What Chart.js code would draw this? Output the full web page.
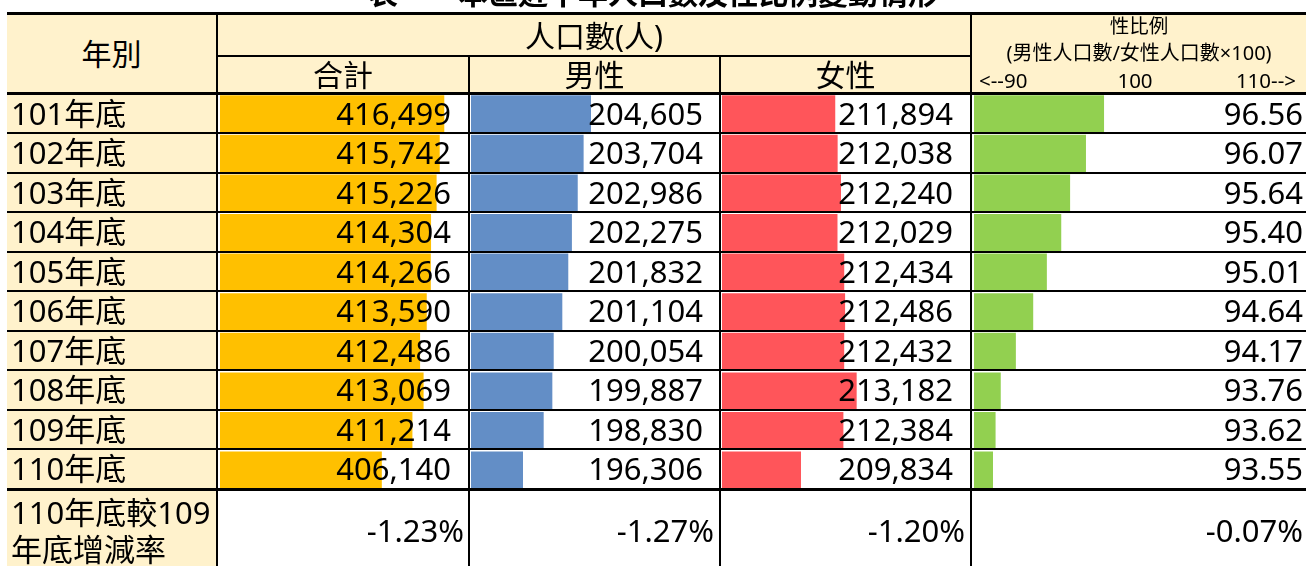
<!DOCTYPE html>
<html>
<head>
<meta charset="utf-8">
<script src="https://cdn.jsdelivr.net/npm/chart.js@4/dist/chart.umd.min.js"></script>
<style>
  html, body { margin: 0; padding: 0; background: #fff; }
  body { width: 1306px; height: 566px; overflow: hidden; position: relative;
         font-family: "Noto Sans", "Noto Sans CJK TC", sans-serif; color: #000; }
  .fill { position: absolute; background: #FFF2CC; }
  .ln { position: absolute; background: #000; }
  canvas { position: absolute; }
  .txt { position: absolute; white-space: nowrap; z-index: 5; }
</style>
</head>
<body>
<script>
// data
const years = ['101年底','102年底','103年底','104年底','105年底','106年底','107年底','108年底','109年底','110年底'];
const totalPop = [416499, 415742, 415226, 414304, 414266, 413590, 412486, 413069, 411214, 406140];
const malePop = [204605, 203704, 202986, 202275, 201832, 201104, 200054, 199887, 198830, 196306];
const femalePop = [211894, 212038, 212240, 212029, 212434, 212486, 212432, 213182, 212384, 209834];
const sexRatio = [96.56, 96.07, 95.64, 95.40, 95.01, 94.64, 94.17, 93.76, 93.62, 93.55];
const changeRate = ['-1.23%', '-1.27%', '-1.20%', '-0.07%'];
const ratioTicks = ['<--90', '100', '110-->'];

const title = '表一　本區近十年人口數及性比例變動情形';
const lastLabel = ['110年底較109', '年底增減率'];

const body = document.body;
function box(cls, x, y, w, h, extra) {
  const d = document.createElement('div');
  d.className = cls;
  d.style.left = x + 'px'; d.style.top = y + 'px';
  d.style.width = w + 'px'; d.style.height = h + 'px';
  if (extra) Object.assign(d.style, extra);
  body.appendChild(d);
  return d;
}
function text(str, x, y, w, h, size, align, extra) {
  const d = box('txt', x, y, w, h, Object.assign({
    fontSize: size + 'px', lineHeight: h + 'px', textAlign: align
  }, extra || {}));
  d.textContent = str;
  return d;
}

// row grid
const rowTop = 93.5, rowH = 39.55;
const rowY = k => rowTop + rowH * k;

// background fills
box('fill', 7, 15, 1299, 77);
box('fill', 7, 95, 209, 471);

// title (cut off by top of page)
text(title, 368, -22, 700, 30, 30, 'left', {fontWeight: 'bold'});

// headers
text('年別', 7, 15, 209, 77, 30, 'center');
text('人口數(人)', 218, 16, 752, 40, 30, 'center');
text('合計', 218, 57, 250, 35, 30, 'center');
text('男性', 470, 57, 249, 35, 30, 'center');
text('女性', 721, 57, 249, 35, 30, 'center');
text('性比例', 972, 14, 334, 24, 19.5, 'center');
text('(男性人口數/女性人口數×100)', 972, 41, 334, 24, 20, 'center');
text(ratioTicks[0], 979, 68, 100, 24, 20.5, 'left');
text(ratioTicks[1], 1085, 68, 100, 24, 20.5, 'center');
text(ratioTicks[2], 1196, 68, 100, 24, 20.5, 'right');

// bar columns
const columns = [
  {values: totalPop, color: '#FFC000', left: 220, width: 246, min: 379300, max: 420100, textRight: 451, lastRight: 464},
  {values: malePop, color: '#638EC6', left: 471, width: 246, min: 189960, max: 219982, textRight: 703, lastRight: 714},
  {values: femalePop, color: '#FF555A', left: 722, width: 246, min: 205084, max: 219877, textRight: 953, lastRight: 965},
  {values: sexRatio, color: '#92D050', left: 974, width: 330, min: 93.035, max: 101.98, textRight: 1303, lastRight: 1303}
];

columns.forEach((c, ci) => {
  const cv = document.createElement('canvas');
  cv.width = c.width;
  cv.height = Math.round(rowH * 10);
  cv.style.left = c.left + 'px';
  cv.style.top = Math.round(rowTop) + 'px';
  body.appendChild(cv);

  new Chart(cv.getContext('2d'), {
    type: 'bar',
    data: {
      labels: years,
      datasets: [{
        data: c.values,
        backgroundColor: c.color,
        borderWidth: 0,
        barPercentage: 0.94,
        categoryPercentage: 1
      }]
    },
    options: {
      indexAxis: 'y',
      responsive: false,
      animation: false,
      devicePixelRatio: 1,
      layout: {padding: 0},
      plugins: {legend: {display: false}, tooltip: {enabled: false}},
      scales: {
        x: {display: false, min: c.min, max: c.max},
        y: {display: false}
      }
    }
  });

  c.values.forEach((v, i) => {
    const s = ci === 3 ? v.toFixed(2) : v.toLocaleString('en-US');
    text(s, c.textRight - 200, rowY(i), 200, rowH, 31, 'right');
  });
  text(changeRate[ci], c.lastRight - 200, 491, 200, 78, 31, 'right');
});

// row labels
years.forEach((y, i) => text(y, 11, rowY(i), 205, rowH, 31, 'left'));
text(lastLabel[0], 11, 494, 205, 37, 31, 'left');
text(lastLabel[1], 11, 531, 205, 37, 31, 'left');

// grid lines
box('ln', 7, 12, 1299, 3);
box('ln', 7, 92, 1299, 3);
box('ln', 7, 488, 1299, 3);
for (let k = 1; k < 10; k++) box('ln', 7, Math.round(rowY(k)) - 1, 1299, 2);
box('ln', 216, 55, 756, 2);
box('ln', 216, 12, 2, 554);
box('ln', 468, 56, 2, 510);
box('ln', 719, 56, 2, 510);
box('ln', 970, 12, 2, 554);
</script>
</body>
</html>
